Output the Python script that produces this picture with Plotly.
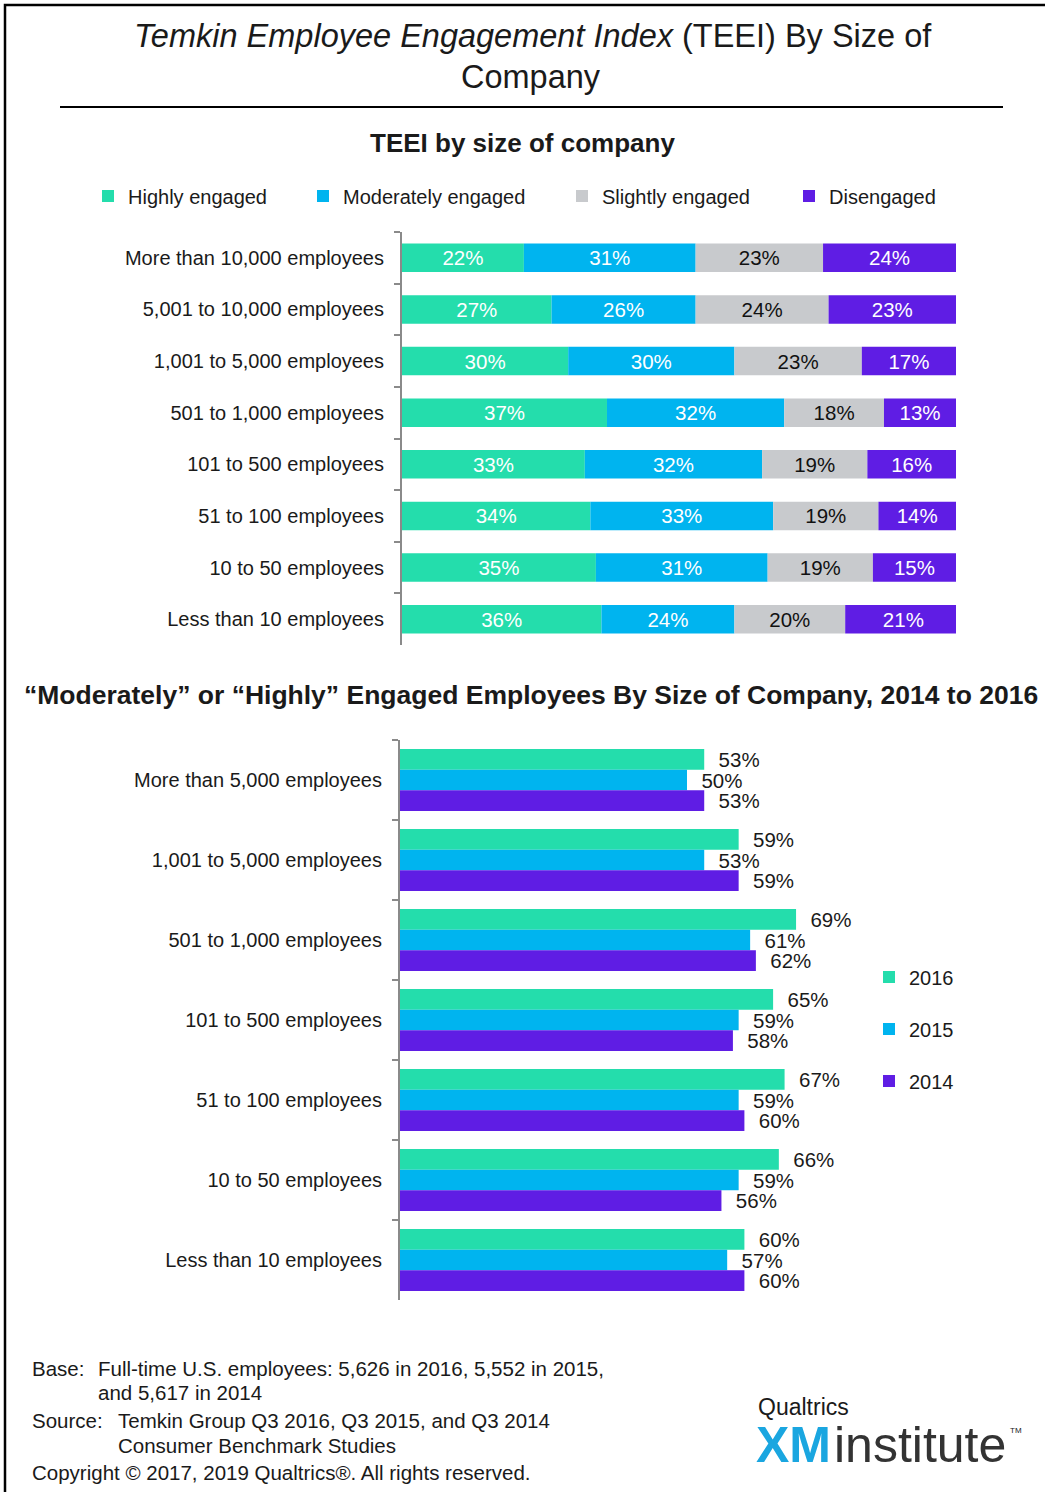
import numpy as np
import plotly.graph_objects as go

W, H = 1045, 1492

# ---------------- data ----------------
top_categories = ["More than 10,000 employees", "5,001 to 10,000 employees",
                  "1,001 to 5,000 employees", "501 to 1,000 employees",
                  "101 to 500 employees", "51 to 100 employees",
                  "10 to 50 employees", "Less than 10 employees"]
highly = [22, 27, 30, 37, 33, 34, 35, 36]
moderately = [31, 26, 30, 32, 32, 33, 31, 24]
slightly = [23, 24, 23, 18, 19, 19, 19, 20]
disengaged = [24, 23, 17, 13, 16, 14, 15, 21]

bottom_categories = ["More than 5,000 employees", "1,001 to 5,000 employees",
                     "501 to 1,000 employees", "101 to 500 employees",
                     "51 to 100 employees", "10 to 50 employees",
                     "Less than 10 employees"]
y2016 = [53, 59, 69, 65, 67, 66, 60]
y2015 = [50, 53, 61, 59, 59, 59, 57]
y2014 = [53, 59, 62, 58, 60, 56, 60]

GREEN = "#24DDAC"
BLUE = "#00B4EF"
GREY = "#C8CACD"
PURPLE = "#5F1DE4"
TXT = "#1a1a1a"
FONT = "Liberation Sans, Arial, sans-serif"


def px(x):
    return x / W


def py(y):
    return 1 - y / H


fig = go.Figure()

# ---------------- top stacked chart ----------------
series = [("Highly engaged", highly, GREEN, "white", "legend"),
          ("Moderately engaged", moderately, BLUE, "white", "legend2"),
          ("Slightly engaged", slightly, GREY, "#111111", "legend3"),
          ("Disengaged", disengaged, PURPLE, "white", "legend4")]
base = np.zeros(len(top_categories))
for name, vals, col, tcol, leg in series:
    fig.add_trace(go.Bar(
        y=top_categories, x=vals, base=base.copy(), orientation="h", name=name,
        marker=dict(color=col, line=dict(width=0)),
        text=[f"{v}%" for v in vals], textposition="inside",
        insidetextanchor="middle", constraintext="none",
        textfont=dict(color=tcol, size=20.5, family=FONT),
        width=0.55, offsetgroup="a",
        xaxis="x", yaxis="y", legend=leg, hoverinfo="skip"))
    base = base + np.array(vals)

# ---------------- bottom grouped chart ----------------
for name, vals, col, leg in [("2016", y2016, GREEN, "legend5"),
                             ("2015", y2015, BLUE, "legend6"),
                             ("2014", y2014, PURPLE, "legend7")]:
    fig.add_trace(go.Bar(
        y=bottom_categories, x=vals, orientation="h", name=name,
        marker=dict(color=col, line=dict(width=0)),
        text=[f"\u00a0\u00a0{v}%" for v in vals], textposition="outside",
        constraintext="none", cliponaxis=False,
        textfont=dict(color=TXT, size=20.5, family=FONT),
        xaxis="x2", yaxis="y2", legend=leg, hoverinfo="skip"))

yax_common = dict(type="category", autorange="reversed", showline=True,
                  linecolor="#8a8a8a", linewidth=2, ticks="outside",
                  tickson="boundaries", ticklen=6, tickcolor="#8a8a8a",
                  tickwidth=2, showgrid=False, zeroline=False,
                  tickfont=dict(size=20, color=TXT, family=FONT),
                  ticklabelstandoff=12, fixedrange=True)

leg_common = dict(orientation="h", xanchor="left", yanchor="middle",
                  bgcolor="rgba(0,0,0,0)", borderwidth=0,
                  font=dict(size=20, color=TXT, family=FONT))

def leg(x, y):
    d = dict(leg_common)
    d.update(x=px(x), y=py(y))
    return d

fig.update_layout(
    width=W, height=H, margin=dict(l=0, r=0, t=0, b=0),
    paper_bgcolor="white", plot_bgcolor="white",
    font=dict(family=FONT, color=TXT),
    barmode="group", bargap=0.225, bargroupgap=0,
    xaxis=dict(domain=[px(402), px(956)], range=[0, 100], visible=False,
               anchor="y", fixedrange=True),
    yaxis=dict(domain=[py(645), py(232)], anchor="x", **yax_common),
    xaxis2=dict(domain=[px(400), px(974)], range=[0, 100], visible=False,
                anchor="y2", fixedrange=True),
    yaxis2=dict(domain=[py(1300), py(740)], anchor="x2", **yax_common),
    legend=leg(88, 196), legend2=leg(303, 196), legend3=leg(562, 196),
    legend4=leg(789, 196),
    legend5=leg(869, 977), legend6=leg(869, 1029), legend7=leg(869, 1081),
    showlegend=True,
)

# ---------------- texts ----------------
ann = [
    dict(x=px(533), y=py(36), text="<i>Temkin Employee Engagement Index</i> (TEEI) By Size of",
         size=32.5, xanchor="center"),
    dict(x=px(531), y=py(77), text="Company", size=32.5, xanchor="center"),
    dict(x=px(522), y=py(143), text="<b>TEEI by size of company</b>", size=26, xanchor="center"),
    dict(x=px(531), y=py(695),
         text="<b>\u201cModerately\u201d or \u201cHighly\u201d Engaged Employees By Size of Company, 2014 to 2016</b>",
         size=26.5, xanchor="center"),
    dict(x=px(30), y=py(1368), text="Base:", size=20.5, xanchor="left"),
    dict(x=px(96), y=py(1368), text="Full-time U.S. employees: 5,626 in 2016, 5,552 in 2015,", size=20.5, xanchor="left"),
    dict(x=px(96), y=py(1392), text="and 5,617 in 2014", size=20.5, xanchor="left"),
    dict(x=px(30), y=py(1420), text="Source:", size=20.5, xanchor="left"),
    dict(x=px(116), y=py(1420), text="Temkin Group Q3 2016, Q3 2015, and Q3 2014", size=20.5, xanchor="left"),
    dict(x=px(116), y=py(1445), text="Consumer Benchmark Studies", size=20.5, xanchor="left"),
    dict(x=px(30), y=py(1472), text="Copyright \u00a9 2017, 2019 Qualtrics\u00ae. All rights reserved.", size=20.5, xanchor="left"),
    dict(x=px(756), y=py(1407), text="Qualtrics", size=23, xanchor="left"),
    dict(x=px(754), y=py(1445), text="<b><span style='color:#1AA6E0'>XM</span></b>", size=50, xanchor="left"),
    dict(x=px(832), y=py(1445), text="<span style='color:#333333'>institute</span>", size=50, xanchor="left"),
    dict(x=px(1008), y=py(1430), text="TM", size=8, xanchor="left"),
]
for a in ann:
    fig.add_annotation(x=a["x"], y=a["y"], xref="paper", yref="paper",
                       text=a["text"], showarrow=False, xanchor=a["xanchor"],
                       yanchor="middle", font=dict(size=a["size"], color=TXT, family=FONT))

# frame and title rule
fig.add_shape(type="rect", xref="paper", yref="paper", x0=px(5), y0=py(1500),
              x1=px(1050), y1=py(5), line=dict(color="black", width=2.5))
fig.add_shape(type="line", xref="paper", yref="paper", x0=px(60), x1=px(1003),
              y0=py(107), y1=py(107), line=dict(color="black", width=2))

fig.write_html("out.html", config={"displayModeBar": False},
               post_script="document.body.style.margin='0';document.body.style.padding='0';")
